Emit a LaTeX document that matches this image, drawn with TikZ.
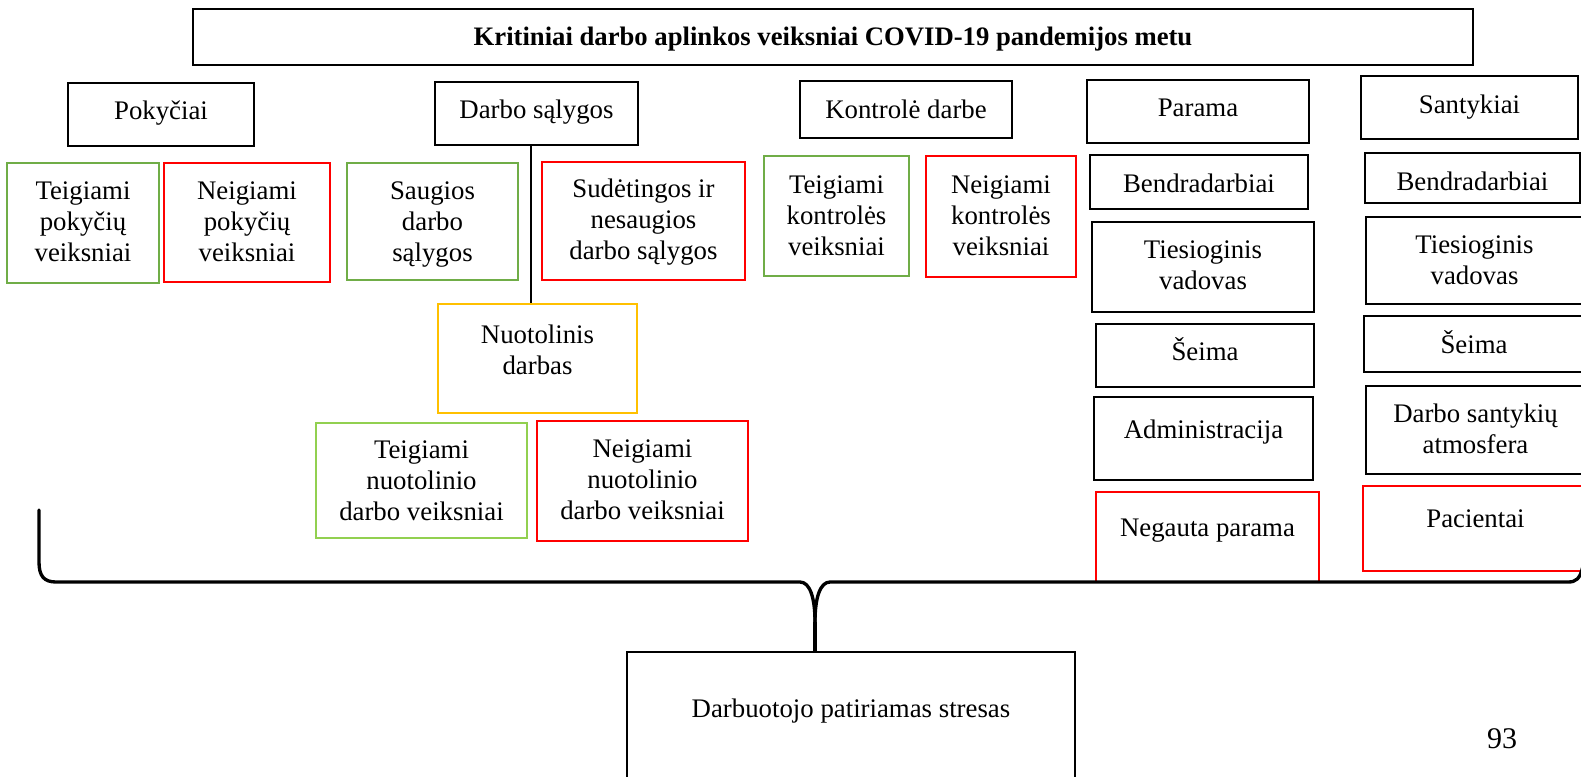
\documentclass[tikz,border=0pt]{standalone}
\usepackage{fontspec}
\setmainfont{Liberation Serif}
\definecolor{grn}{HTML}{70AD47}
\definecolor{lgrn}{HTML}{92D050}
\definecolor{rd}{HTML}{FF0000}
\definecolor{org}{HTML}{FFC000}
% invisible strut that fixes the height of the first text line
\newcommand\hstrut{\rule{0pt}{20pt}}
% framed box: name, x1, y1, x2, y2, style, first baseline, text
\newcommand\boxnode[8]{%
  \node[#6, minimum width={(#4-#2)*0.75pt}, minimum height={(#5-#3)*0.75pt}]
    (#1) at ({(#2+#4)/2},{(#3+#5)/2}) {};
  \node[txt] (#1-t) at ({(#2+#4)/2},{#7-26.667}) {\hstrut #8};}
\begin{document}
\begin{tikzpicture}[x=0.75pt,y=-0.75pt,
  frame/.style={rectangle, inner sep=0pt},
  box/.style={frame, draw=black, line width=1.8pt},
  gbox/.style={frame, draw=grn, line width=1.6pt},
  lgbox/.style={frame, draw=lgrn, line width=1.6pt},
  rbox/.style={frame, draw=rd, line width=1.6pt},
  obox/.style={frame, draw=org, line width=1.6pt},
  txt/.style={inner sep=0pt, align=center, anchor=north,
    font=\fontsize{20.1}{23.25}\selectfont},
  brace/.style={line width=2.5pt, line cap=round, line join=round}]
\useasboundingbox (0,0) rectangle (1581,776);
\clip (0,0) rectangle (1581,776);

% title
\node[box, minimum width={1280*0.75pt}, minimum height={56*0.75pt}] (title) at (833,37) {};
\node[inner sep=0pt, anchor=base, font=\bfseries\fontsize{20}{23}\selectfont]
  (title-t) at (833,45) {Kritiniai darbo aplinkos veiksniai COVID-19 pandemijos metu};

% category headers
\boxnode{pok}{68}{83}{254}{146}{box}{119}{Pokyčiai}
\boxnode{ds}{435}{82}{638}{145}{box}{118}{Darbo sąlygos}
\boxnode{kd}{800}{81}{1012}{138}{box}{118}{Kontrolė darbe}
\boxnode{par}{1087}{80}{1309}{143}{box}{116}{Parama}
\boxnode{san}{1361}{76}{1578}{139}{box}{113}{Santykiai}

% changes
\boxnode{tp}{7}{163}{159}{283}{gbox}{199}{Teigiami\\pokyčių\\veiksniai}
\boxnode{np}{164}{163}{330}{282}{rbox}{199}{Neigiami\\pokyčių\\veiksniai}

% working conditions
\boxnode{sd}{347}{163}{518}{280}{gbox}{199}{Saugios\\darbo\\sąlygos}
\boxnode{sn}{542}{162}{745}{280}{rbox}{197}{Sudėtingos ir\\nesaugios\\darbo sąlygos}
\boxnode{nd}{438}{304}{637}{413}{obox}{343}{Nuotolinis\\darbas}
\boxnode{tn}{316}{423}{527}{538}{lgbox}{458}{Teigiami\\nuotolinio\\darbo veiksniai}
\boxnode{nn}{537}{421}{748}{541}{rbox}{457}{Neigiami\\nuotolinio\\darbo veiksniai}
\draw[line width=1.5pt] ([xshift=-4.5pt]ds.south) -- ([xshift=-4.5pt]ds.south |- nd.north);

% control at work
\boxnode{tk}{764}{156}{909}{276}{gbox}{193}{Teigiami\\kontrolės\\veiksniai}
\boxnode{nk}{926}{156}{1076}{277}{rbox}{193}{Neigiami\\kontrolės\\veiksniai}

% support
\boxnode{pb}{1090}{155}{1308}{209}{box}{192}{Bendradarbiai}
\boxnode{pt}{1092}{222}{1314}{312}{box}{258}{Tiesioginis\\vadovas}
\boxnode{ps}{1096}{324}{1314}{387}{box}{360}{Šeima}
\boxnode{pa}{1094}{397}{1313}{480}{box}{438}{Administracija}
\boxnode{pn}{1096}{492}{1319}{582}{rbox}{536}{Negauta parama}

% relationships
\boxnode{sb}{1365}{153}{1580}{203}{box}{190}{Bendradarbiai}
\boxnode{st}{1366}{217}{1583}{304}{box}{253}{Tiesioginis\\vadovas}
\boxnode{ss}{1364}{316}{1584}{372}{box}{353}{Šeima}
\boxnode{sa}{1366}{386}{1585}{474}{box}{422}{Darbo santykių\\atmosfera}
\boxnode{sp}{1363}{486}{1588}{571}{rbox}{527}{Pacientai}

% outcome
\boxnode{stress}{627}{652}{1075}{800}{box}{717}{Darbuotojo patiriamas stresas}

% brace gathering all factors
\coordinate (tip) at (815,622);
\draw[brace] (39,510) -- (39,562) .. controls (39,576) and (44,582) .. (56,582)
  -- (800,582) .. controls (810,582) and (815,598) .. (tip);
\draw[brace] (tip) .. controls (815,598) and (820,582) .. (830,582)
  -- (1568,582) .. controls (1576,582) and (1580,579) .. (1583,566);
\draw[brace, line cap=butt] (tip) -- (tip |- stress.north);

% page number
\node[inner sep=0pt, anchor=base, font=\fontsize{22.5}{26}\selectfont] (pg) at (1502,748) {93};
\end{tikzpicture}
\end{document}
